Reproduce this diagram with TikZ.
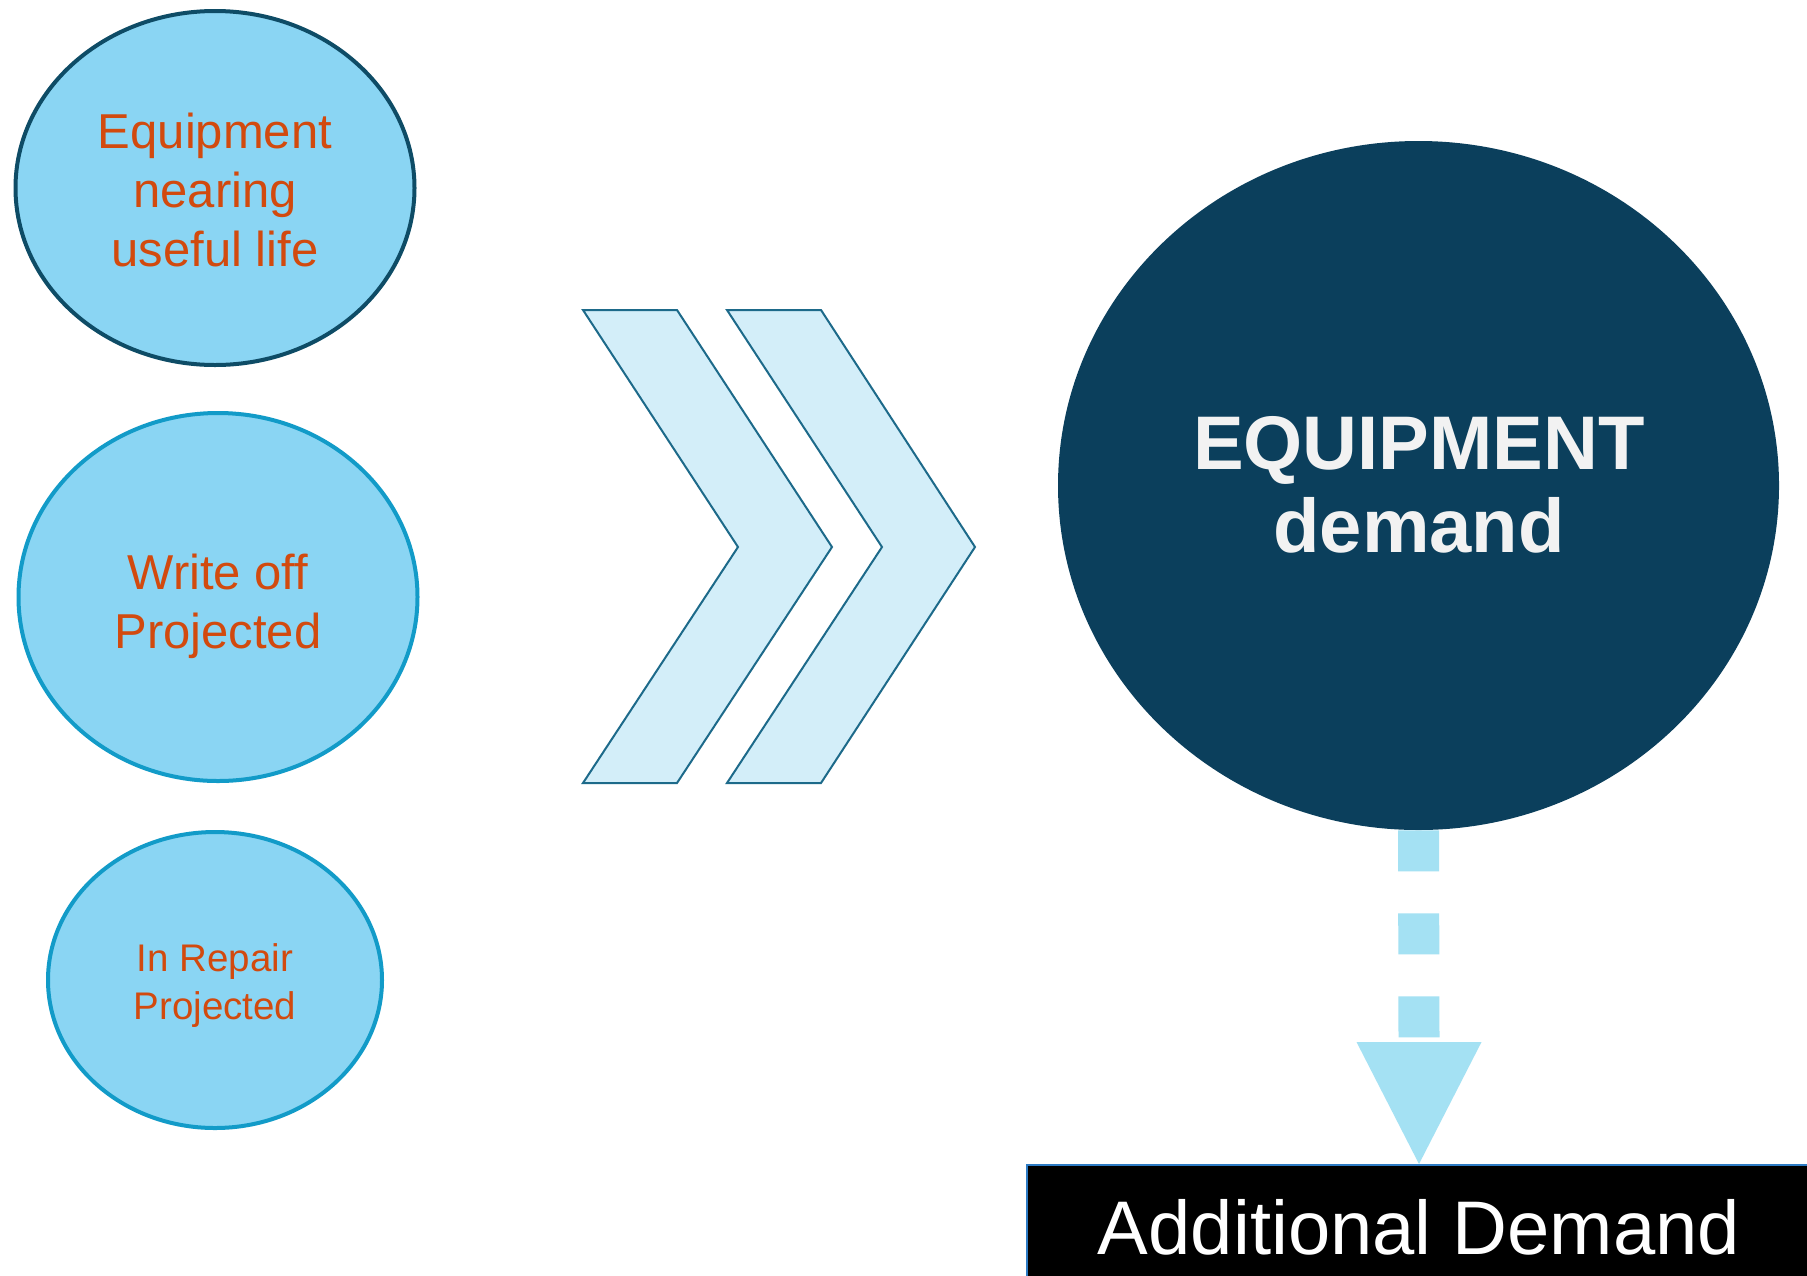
\documentclass[tikz,border=0pt]{standalone}
\usepackage{fontspec}
\setmainfont{Liberation Sans}
\setsansfont{Liberation Sans}
\definecolor{ellfill}{HTML}{8AD5F3}
\definecolor{ellborderdark}{HTML}{0E4C66}
\definecolor{ellborder}{HTML}{129BC8}
\definecolor{ortext}{HTML}{D24A0E}
\definecolor{chevfill}{HTML}{D3EEF9}
\definecolor{chevline}{HTML}{1D6A8A}
\definecolor{navy}{HTML}{0B3F5C}
\definecolor{offwhite}{HTML}{F2F2F2}
\definecolor{dashblue}{HTML}{A4E1F3}
\definecolor{rectline}{HTML}{2D7BC4}
\tikzset{
  ell/.style={ellipse, fill=ellfill, draw=ellborder, line width=2pt, inner sep=0pt},
  ltext/.style={text=ortext, align=center, inner sep=0pt, anchor=base,
     font=\fontsize{24.5pt}{29.5pt}\selectfont},
  stext/.style={text=ortext, align=center, inner sep=0pt, anchor=base,
     font=\fontsize{19.25pt}{23.75pt}\selectfont},
  chev/.style={fill=chevfill, draw=chevline, line width=1pt, line join=miter},
  bigcirc/.style={ellipse, fill=navy, draw=none, inner sep=0pt,
     minimum width=360.5pt, minimum height=344.5pt},
  btext/.style={text=offwhite, align=center, inner sep=0pt, anchor=base,
     font=\fontsize{38pt}{41.5pt}\selectfont\bfseries},
  dashconn/.style={draw=dashblue, line width=20.5pt, line cap=butt, dash pattern=on 20.5pt off 21pt},
  tipfill/.style={fill=dashblue},
  adbox/.style={rectangle, fill=black, draw=rectline, line width=1pt, inner sep=0pt,
     minimum width=392pt, minimum height=62.5pt, text=white,
     font=\fontsize{38pt}{40pt}\selectfont}
}
\usetikzlibrary{shapes.geometric}
\begin{document}
\begin{tikzpicture}[x=0.5pt, y=-0.5pt]
\useasboundingbox (0,0) rectangle (1807,1275);
\clip (0,0) rectangle (1807,1275);
\fill[white] (0,0) rectangle (1807,1275);

% left ellipses
\node[ell, draw=ellborderdark, minimum width=199.5pt, minimum height=177pt] (e1) at (215,188) {};
\node[ltext] (e1t) at (215,266) {Equipment\\nearing\\useful life};

\node[ell, minimum width=199.5pt, minimum height=184pt] (e2) at (218,597) {};
\node[ltext] (e2t) at (218,648) {Write off\\Projected};

\node[ell, minimum width=167pt, minimum height=148pt] (e3) at (215,980) {};
\node[stext] (e3t) at (215,1019) {In Repair\\Projected};

% chevrons
\draw[chev] (583,310) -- (677,310) -- (832,547) -- (677,783) -- (583,783) -- (738,547) -- cycle;
\draw[chev] (727,310) -- (821,310) -- (975,547) -- (821,783) -- (727,783) -- (882,547) -- cycle;

% big circle
\node[bigcirc] (eq) at (1418.5,485.5) {};
\node[btext] (eqt) at (1419,552) {EQUIPMENT\\demand};

% bottom box
\node[adbox] (ad) at (1419,1227.5) {Additional Demand};

% dashed connector with triangle head
\coordinate (tipbase) at (1419,1042);
\draw[dashconn] (eq.south) -- (tipbase);
\fill[tipfill] ([xshift=-62.5*0.5pt]tipbase) -- ([xshift=62.5*0.5pt]tipbase) -- (ad.north) -- cycle;
\end{tikzpicture}
\end{document}
